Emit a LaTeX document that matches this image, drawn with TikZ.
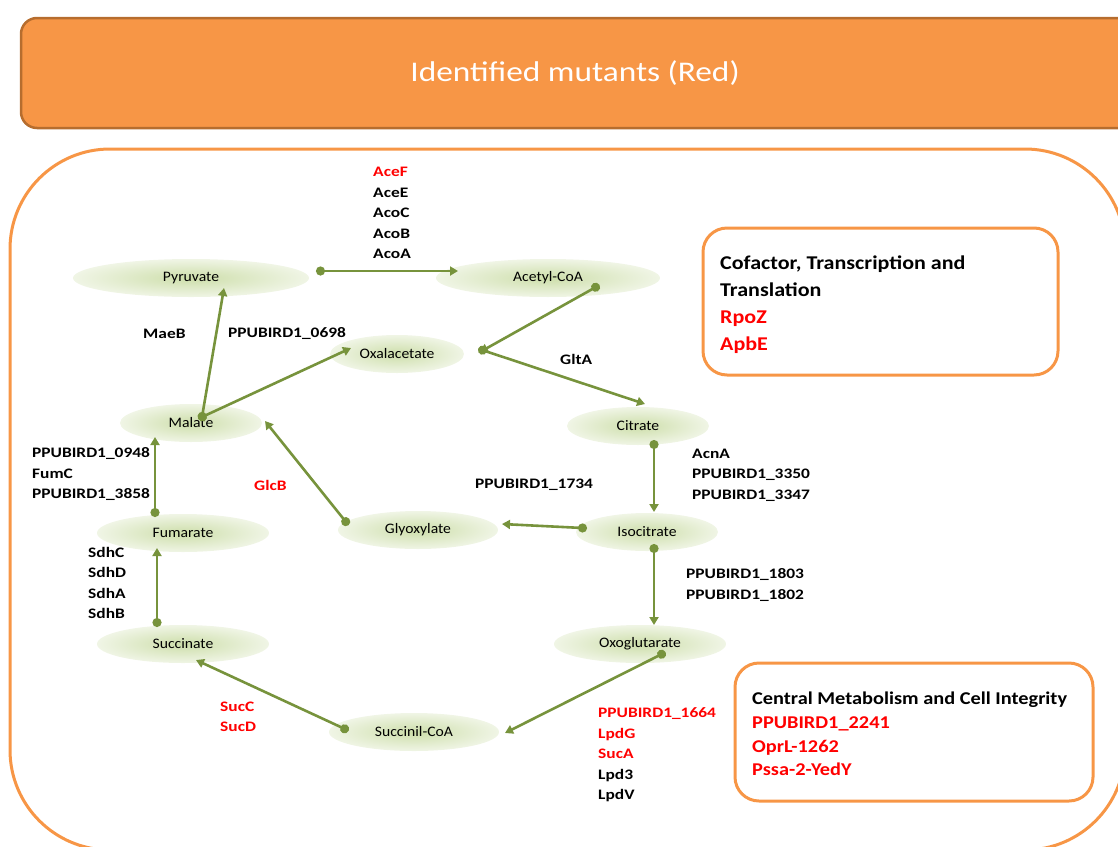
\documentclass[tikz,border=0pt]{standalone}
\usepackage{fontspec}
\setmainfont{Carlito}
\newfontfamily\metfont{Carlito}[FakeStretch=1.08]
\newfontfamily\genefont{Carlito}[FakeStretch=1.2]
\newfontfamily\boxfont{Carlito}[FakeStretch=1.13]
\newfontfamily\titlefont{Carlito}[FakeStretch=1.17]
\usetikzlibrary{arrows.meta,calc,shapes.geometric}
\definecolor{orng}{RGB}{247,150,70}
\definecolor{orngdark}{RGB}{182,109,46}
\definecolor{olive}{RGB}{119,147,60}
\definecolor{elgreen}{RGB}{205,222,170}
\definecolor{red1}{RGB}{255,0,0}
\tikzset{
  met/.style={ellipse, minimum width=#1, minimum height=38pt, inner sep=0pt,
    inner color=elgreen, outer color=elgreen!30!white,
    font=\metfont\fontsize{14.5}{16}\selectfont},
  flow/.style={line width=2.6pt, draw=olive, {Circle[length=9pt]}-{Triangle[length=8pt,width=9pt]}, shorten <=-4pt},
  gene/.style={font=\genefont\bfseries\fontsize{14.5}{20.5}\selectfont, align=left, anchor=west, inner sep=0pt},
  boxtxt/.style={font=\boxfont\bfseries\fontsize{19.5}{26.7}\selectfont, align=left, anchor=north west, inner sep=0pt},
}
\begin{document}
\begin{tikzpicture}[x=1pt,y=-1pt]
\path[use as bounding box] (0,0) rectangle (1118,846);
\begin{scope}
\clip (0,0) rectangle (1118,846);
% title bar
\draw[fill=orng, draw=orngdark, line width=2.5pt, rounded corners=16pt] (21,18) rectangle (1140,128);
\node[text=white, font=\titlefont\fontsize{28.5}{32}\selectfont] (title) at (575,73) {Identified mutants (Red)};
% outer frame
\draw[draw=orng, line width=3pt, rounded corners=100pt] (10,149) rectangle (1125,850);
\end{scope}

% metabolites
\node[met=236pt] (pyr) at (191,278) {Pyruvate};
\node[met=224pt] (acc) at (548,278) {Acetyl-CoA};
\node[met=134pt] (oxa) at (397,354) {Oxalacetate};
\node[met=142pt] (mal) at (191,423) {Malate};
\node[met=142pt] (cit) at (638,426) {Citrate};
\node[met=172pt] (fum) at (183,533) {Fumarate};
\node[met=160pt] (gly) at (418,530) {Glyoxylate};
\node[met=142pt] (iso) at (647,532) {Isocitrate};
\node[met=172pt] (suc) at (183,644) {Succinate};
\node[met=172pt] (oxo) at (640,644) {Oxoglutarate};
\node[met=170pt] (sca) at (414,732) {Succinil-CoA};

% reactions
\draw[flow] ($(pyr)+(129,-7)$) -- ($(acc)+(-90,-7)$);
\draw[flow] ($(acc)+(48,9)$) -- ($(oxa)+(83,-2)$);
\draw[flow] ($(oxa)+(85,-4)$) -- ($(cit)+(7,-22)$);
\draw[flow] ($(mal)+(11,-6)$) -- ($(oxa)+(-46,-6)$);
\draw[flow] ($(mal)+(11,-6)$) -- ($(pyr)+(33,10)$);
\draw[flow] ($(cit)+(16,18)$) -- ($(iso)+(7,-20)$);
\draw[flow] ($(iso)+(-64,-4)$) -- ($(gly)+(84,-6)$);
\draw[flow] ($(gly)+(-72,-8)$) -- ($(mal)+(74,-2)$);
\draw[flow] ($(fum)+(-28,-20)$) -- ($(mal)+(-36,14)$);
\draw[flow] ($(suc)+(-26,-21)$) -- ($(fum)+(-26,15)$);
\draw[flow] ($(iso)+(7,16)$) -- ($(oxo)+(14,-19)$);
\draw[flow] ($(oxo)+(22,10)$) -- ($(sca)+(91,1)$);
\draw[flow] ($(sca)+(-69,-3)$) -- ($(suc)+(13,16)$);

% gene labels
\node[gene] (g1) at (373,213) {\textcolor{red1}{AceF}\\AceE\\AcoC\\AcoB\\AcoA};
\node[gene] (g2) at (143,334) {MaeB};
\node[gene] (g3) at (228,334) {PPUBIRD1\_0698};
\node[gene] (g4) at (560,359) {GltA};
\node[gene] (g5) at (32,474) {PPUBIRD1\_0948\\FumC\\PPUBIRD1\_3858};
\node[gene, text=red1] (g6) at (254,485) {GlcB};
\node[gene] (g7) at (475,485) {PPUBIRD1\_1734};
\node[gene] (g8) at (692,475) {AcnA\\PPUBIRD1\_3350\\PPUBIRD1\_3347};
\node[gene] (g9) at (88,583) {SdhC\\SdhD\\SdhA\\SdhB};
\node[gene] (g10) at (686,585) {PPUBIRD1\_1803\\PPUBIRD1\_1802};
\node[gene, text=red1] (g11) at (220,717) {SucC\\SucD};
\node[gene] (g12) at (598,755) {\textcolor{red1}{PPUBIRD1\_1664}\\\textcolor{red1}{LpdG}\\\textcolor{red1}{SucA}\\Lpd3\\LpdV};

% category boxes
\draw[draw=orng, line width=3pt, rounded corners=24pt] (703,228) rectangle (1058,375);
\node[boxtxt] (b1) at (720,256) {Cofactor, Transcription and\\Translation\\\textcolor{red1}{RpoZ}\\\textcolor{red1}{ApbE}};
\draw[draw=orng, line width=3pt, rounded corners=24pt] (735,663) rectangle (1093,801);
\node[boxtxt, font=\boxfont\bfseries\fontsize{18}{23.7}\selectfont] (b2) at (752,692) {Central Metabolism and Cell Integrity\\\textcolor{red1}{PPUBIRD1\_2241}\\\textcolor{red1}{OprL-1262}\\\textcolor{red1}{Pssa-2-YedY}};
\end{tikzpicture}
\end{document}
